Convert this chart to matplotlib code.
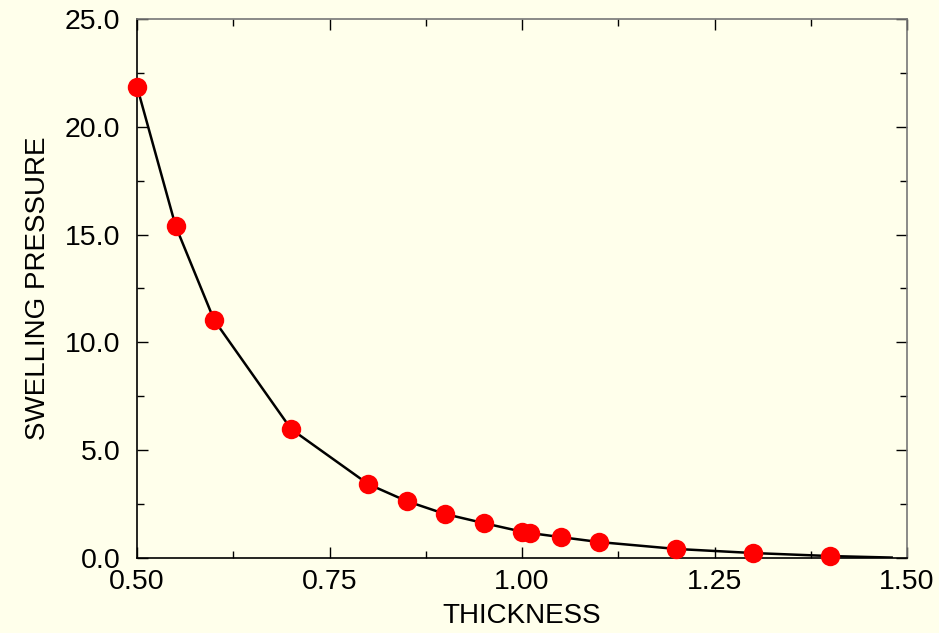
import matplotlib.pyplot as plt
from matplotlib.ticker import MultipleLocator, FormatStrFormatter

plt.rcParams['font.family'] = ['Liberation Sans', 'DejaVu Sans']

# datos
thickness = [0.50, 0.55, 0.60, 0.70, 0.80, 0.85, 0.90, 0.95, 1.00, 1.01, 1.05, 1.10, 1.20, 1.30, 1.40]
pressure = [21.85, 15.4, 11.04, 5.98, 3.43, 2.64, 2.04, 1.62, 1.22, 1.16, 0.97, 0.74, 0.42, 0.23, 0.09]

# curva de ajuste (termina un poco antes de 1.50)
curve_x = thickness + [1.48]
curve_y = pressure + [0.02]

bg = '#FFFFEB'
fig = plt.figure(figsize=(9.39, 6.33), dpi=100, facecolor=bg)
ax = fig.add_axes([0.146, 0.1185, 0.82, 0.8515], facecolor=bg)

ax.plot(curve_x, curve_y, color='black', lw=1.8, zorder=2)
ax.plot(thickness, pressure, 'o', color='#FF0000', ms=14, mec='none', zorder=3, clip_on=False)

ax.set_xlim(0.5, 1.5)
ax.set_ylim(0, 25)
ax.xaxis.set_major_locator(MultipleLocator(0.25))
ax.xaxis.set_minor_locator(MultipleLocator(0.125))
ax.yaxis.set_major_locator(MultipleLocator(5))
ax.yaxis.set_minor_locator(MultipleLocator(2.5))
ax.xaxis.set_major_formatter(FormatStrFormatter('%.2f'))
ax.yaxis.set_major_formatter(FormatStrFormatter('%.1f'))

ax.tick_params(which='both', direction='in', top=True, right=True, labelsize=20.5, color='black')
ax.tick_params(which='major', length=8, width=1)
ax.tick_params(which='minor', length=5, width=1)
ax.tick_params(axis='x', pad=8)
ax.tick_params(axis='y', pad=12)

for side in ['left', 'bottom']:
    ax.spines[side].set_color('black')
    ax.spines[side].set_linewidth(1.2)
for side in ['top', 'right']:
    ax.spines[side].set_color('#777777')
    ax.spines[side].set_linewidth(1.2)

ax.set_xlabel('THICKNESS', fontsize=20, labelpad=6)
ax.set_ylabel('SWELLING PRESSURE', fontsize=20, labelpad=10)

plt.savefig('out.png', dpi=100, facecolor=bg)
